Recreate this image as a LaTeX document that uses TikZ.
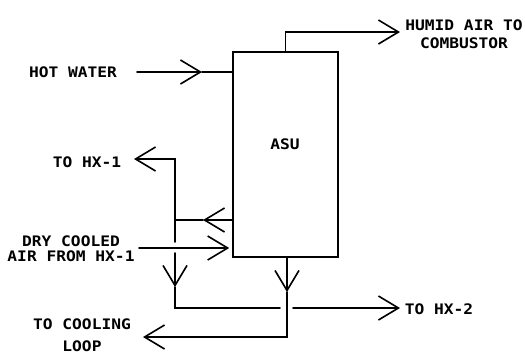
\documentclass[tikz,border=0pt]{standalone}
\usepackage{fontspec}
\newfontfamily\plotfont[FakeStretch=1.12]{DejaVu Sans Mono Bold}
\usetikzlibrary{arrows.meta}

\tikzset{
  flow/.style={-{Straight Barb[length=20pt,width=24pt]}},
  tag/.style={font=\plotfont\fontsize{14.5}{16}\selectfont,inner sep=0pt,align=center},
}

\begin{document}
\begin{tikzpicture}[x=1pt,y=-1pt,line width=1.6pt,line cap=round]
        \useasboundingbox (0,0) rectangle (525,354);
        % unit and its label
        \node[draw,minimum width=105pt,minimum height=205pt,inner sep=0pt] (asu) at (285.5,154.5) {};
        \node[tag] (asulbl) at (285,144) {ASU};
        % stream labels
        \node[tag] (hw) at (73,72) {HOT WATER};
        \node[tag] (hum) at (464,34) {HUMID AIR TO\\[2pt]COMBUSTOR};
        \node[tag] (hx1) at (87,162) {TO HX-1};
        \node[tag] (dry) at (71,249) {DRY COOLED\\[-1pt]AIR FROM HX-1};
        \node[tag] (hx2) at (439,309) {TO HX-2};
        \node[tag] (cool) at (82,335) {TO COOLING\\[6pt]LOOP};
        % free ends and junctions
        \coordinate (hwin) at (137,72);
        \coordinate (hwtip) at (202,72);
        \coordinate (humtip) at (400,32);
        \coordinate (split) at (175,220);
        \coordinate (splittip) at (203,220);
        \coordinate (hx1tip) at (134,159);
        \coordinate (dryin) at (139,248);
        \coordinate (downtip) at (175,287);
        \coordinate (outtip) at (287,292);
        \coordinate (cooltip) at (143,337);
        \coordinate (hx2in) at (293,308);
        \coordinate (hx2tip) at (400,308);
        % hot water in, humid air out
        \draw[flow] (hwin) -- (hwtip);
        \draw (hwtip) -- (hwtip-|asu.west);
        \draw[flow] (asu.north) |- (humtip);
        % side draw-off to HX-1 and down
        \draw[flow] (asu.west|-split) -- (splittip);
        \draw (splittip) -- (split);
        \draw[flow] (split) |- (hx1tip);
        \draw (split) -- (175,242);
        \draw[flow] (175,253) -- (downtip);
        \draw (downtip) |- (280,308);
        % dry cooled air in
        \draw[flow,shorten >=3pt] (dryin) -- (dryin-|asu.west);
        % bottom outlet
        \draw[flow] (asu.south-|outtip) -- (outtip);
        \draw[flow] (outtip) |- (cooltip);
        \draw[flow] (hx2in) -- (hx2tip);
      \end{tikzpicture}
\end{document}
